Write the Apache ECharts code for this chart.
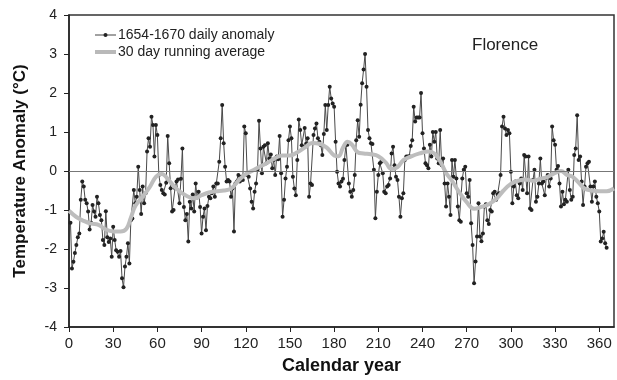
<!DOCTYPE html>
<html>
<head>
<meta charset="utf-8">
<script src="https://cdn.jsdelivr.net/npm/echarts@6/dist/echarts.min.js"></script>
<style>
html,body{margin:0;padding:0;background:#fff;}
#chart{width:617px;height:380px;}
</style>
</head>
<body>
<div id="chart"></div>
<script>
// Daily anomaly, day 1..365 (index + 1 = day of year)
const dailyAnomaly = [
-1.33,-2.5,-2.33,-2.1,-1.9,-1.7,-1.6,-0.74,-0.27,-0.4,
-0.74,-0.83,-1.04,-1.5,-1.33,-0.87,-1.04,-1.17,-0.66,-0.83,
-1.13,-1.26,-1.77,-1.9,-1.03,-1.7,-1.82,-1.73,-2.2,-1.43,
-1.77,-2.03,-2.07,-2.2,-2.05,-2.75,-2.98,-2.45,-2.2,-1.85,
-2.37,-1.26,-1.22,-0.49,-0.83,-0.66,0.11,-0.49,-1.1,-0.4,
-0.83,-0.57,0.5,0.84,0.62,1.39,1.18,0.37,1.18,0.92,
-0.1,-0.36,-0.49,-0.57,-0.6,-0.3,0.9,0.2,-0.44,-1.04,
-1.0,-0.44,-0.27,-0.22,-0.83,-0.2,0.58,-0.92,-1.26,-1.1,
-1.81,-0.79,-0.96,-0.6,-1.04,-0.32,-0.68,-0.53,-0.92,-1.6,
-1.17,-0.96,-1.52,-0.9,-0.66,-0.7,-0.57,-0.4,-0.66,-0.32,
-0.32,0.24,0.84,1.69,0.71,0.11,-0.27,-0.23,-0.27,-0.66,
-0.45,-1.55,-0.32,-0.27,-0.1,-0.27,-0.15,-0.23,1.14,0.97,
-0.1,-0.15,-0.45,-0.79,-0.96,-0.53,-0.32,0.03,1.29,0.58,
-0.06,0.62,0.66,0.2,0.71,0.32,0.42,0.07,0.28,-0.1,
0.37,0.3,0.9,-0.06,-1.17,-0.74,-0.19,0.11,0.79,1.14,
0.84,-0.15,-0.45,-0.62,0.28,1.32,1.05,0.66,0.62,1.1,
0.7,0.84,-0.66,-0.32,-0.36,0.92,1.09,1.22,0.84,0.75,
0.66,0.41,0.95,1.69,1.05,1.69,2.16,1.86,1.73,1.65,
0.75,-0.02,-0.32,-0.4,-0.27,-0.2,0.28,0.67,0.67,-0.32,
-0.53,-0.66,-0.49,-0.1,0.79,1.3,0.88,1.7,2.25,2.6,
3.0,2.16,1.05,0.84,0.71,0.69,0.03,-1.21,-0.53,-0.1,
0.2,0.24,-0.06,-0.53,-0.57,-0.4,-0.36,-0.19,0.45,0.62,
0.15,-0.15,-0.23,-0.66,-1.17,-0.7,-0.57,0.28,0.37,0.37,
0.38,0.64,0.79,1.65,1.27,1.37,1.37,1.37,2.0,0.97,
0.58,0.2,0.15,0.07,0.67,0.37,1.0,0.75,1.0,0.32,
0.2,1.05,0.15,0.32,-0.32,-0.91,-0.32,-0.66,-1.13,0.28,
-0.15,0.28,-0.19,-0.91,-1.26,-1.3,-0.19,0.03,0.11,-0.57,
-0.66,-0.23,-1.34,-1.9,-2.88,-2.32,-1.68,-0.83,-1.68,-1.8,
-1.6,-0.91,-0.85,-1.26,-1.36,-1.0,-1.04,-0.57,-0.53,-0.74,
-0.6,-0.57,-0.1,1.14,1.39,1.09,0.92,1.05,0.97,-0.02,
-0.83,-0.4,-0.27,-0.62,-0.7,-0.32,-0.19,-0.49,0.41,0.37,
-0.57,0.37,-0.96,-1.0,-0.23,0.03,-0.79,-0.66,-0.32,0.32,
-0.32,-0.27,-0.62,-0.17,-0.1,-0.4,-0.19,1.14,0.79,0.67,
0.03,0.13,-0.32,-0.91,-0.53,-0.85,-0.74,-0.79,0.03,-0.49,
-0.74,-0.66,0.41,0.58,1.43,0.28,0.37,-0.27,-0.87,-0.4,
0.11,0.2,0.24,-0.4,-0.79,-0.4,-0.27,-0.66,-0.83,-1.04,
-1.81,-1.73,-1.56,-1.85,-1.97
];

// 30 day running average at these days
const avgDays = [0,5,10,15,20,25,30,35,39,42,45,50,55,59,63,67,71,75,80,85,90,95,100,105,110,115,120,125,130,135,140,145,150,155,160,165,170,175,180,183,186,189,192,196,200,205,210,215,219,223,227,232,238,244,248,252,256,260,265,270,275,280,285,290,295,300,305,310,315,320,325,330,334,338,342,346,350,355,360,365,370];
const avgValues = [-1.02,-1.18,-1.28,-1.35,-1.38,-1.5,-1.55,-1.55,-1.48,-1.2,-0.9,-0.66,-0.4,-0.15,-0.08,-0.2,-0.38,-0.52,-0.64,-0.7,-0.62,-0.55,-0.52,-0.5,-0.45,-0.25,-0.08,0.02,0.12,0.22,0.33,0.4,0.4,0.48,0.6,0.72,0.7,0.6,0.4,0.38,0.6,0.75,0.68,0.48,0.45,0.43,0.38,0.22,0.05,0.1,0.28,0.37,0.45,0.5,0.45,0.25,-0.05,-0.25,-0.55,-0.8,-0.97,-0.92,-0.85,-0.72,-0.5,-0.33,-0.25,-0.22,-0.25,-0.2,-0.15,-0.05,0.0,-0.1,-0.15,-0.3,-0.45,-0.5,-0.52,-0.52,-0.45];

const xTicks = [0,30,60,90,120,150,180,210,240,270,300,330,360];
const yTicks = [-4,-3,-2,-1,0,1,2,3,4];

const FONT = 'Liberation Sans, Arial, sans-serif';
const chart = echarts.init(document.getElementById('chart'), null, {renderer:'canvas'});

const dailyData = dailyAnomaly.map((v, i) => [i + 1, v]);
const avgData = avgDays.map((d, i) => [d, avgValues[i]]);

chart.setOption({
  animation: false,
  backgroundColor: '#ffffff',
  textStyle: {fontFamily: FONT},
  grid: {left: 69, right: 3, top: 15, bottom: 53, show: true, borderColor: '#333', borderWidth: 1.5, backgroundColor: 'transparent'},
  legend: {
    left: 88, top: 23, orient: 'vertical', itemGap: 3,
    itemWidth: 21, itemHeight: 5,
    textStyle: {fontFamily: FONT, fontSize: 14, color: '#222', padding: [0, 0, 0, -3]},
    data: [
      {name: '1654-1670 daily anomaly', itemStyle: {color: '#222'}, lineStyle: {color: '#444', width: 1}},
      {name: '30 day running average', itemStyle: {opacity: 0}, lineStyle: {color: '#b9b9b9', width: 4}}
    ]
  },
  title: {
    text: 'Florence', left: 467, top: 32,
    textStyle: {fontFamily: FONT, fontSize: 17, fontWeight: 'normal', color: '#222'}
  },
  xAxis: {
    type: 'value', min: 0, max: 370, interval: 30,
    name: 'Calendar year', nameLocation: 'middle', nameGap: 30,
    nameTextStyle: {fontFamily: FONT, fontSize: 18, fontWeight: 'bold', color: '#111'},
    axisLine: {show: true, onZero: false, lineStyle: {color: '#222', width: 1.5}},
    axisTick: {show: true, inside: false, length: 5, lineStyle: {color: '#222'},
      customValues: xTicks},
    axisLabel: {fontFamily: FONT, fontSize: 15, color: '#222', margin: 9,
      customValues: xTicks,
      formatter: v => (xTicks.indexOf(v) >= 0 ? String(v) : '')},
    splitLine: {show: false}
  },
  yAxis: {
    type: 'value', min: -4, max: 4, interval: 1,
    name: 'Temperature Anomaly (°C)', nameLocation: 'middle', nameGap: 40,
    nameTextStyle: {fontFamily: FONT, fontSize: 17, fontWeight: 'bold', color: '#111'},
    axisLine: {show: true, lineStyle: {color: '#222', width: 1.5}},
    axisTick: {show: true, inside: false, length: 5, lineStyle: {color: '#222'}},
    axisLabel: {fontFamily: FONT, fontSize: 14, color: '#222', margin: 12,
      formatter: v => (yTicks.indexOf(v) >= 0 ? String(v) : '')},
    splitLine: {show: false}
  },
  series: [
    {
      name: '1654-1670 daily anomaly', type: 'line', data: dailyData,
      symbol: 'circle', symbolSize: 4, showSymbol: true,
      lineStyle: {color: '#4a4a4a', width: 1},
      itemStyle: {color: '#222'},
      z: 3,
      markLine: {
        silent: true, symbol: ['none', 'none'], label: {show: false},
        lineStyle: {color: '#777', width: 1.2, type: 'solid'},
        data: [{yAxis: 0}]
      }
    },
    {
      name: '30 day running average', type: 'line', data: avgData,
      smooth: 0.4, symbol: 'none', showSymbol: false,
      lineStyle: {color: '#bdbdbd', width: 4},
      itemStyle: {color: '#bdbdbd'},
      z: 4
    }
  ]
});
</script>
</body>
</html>
